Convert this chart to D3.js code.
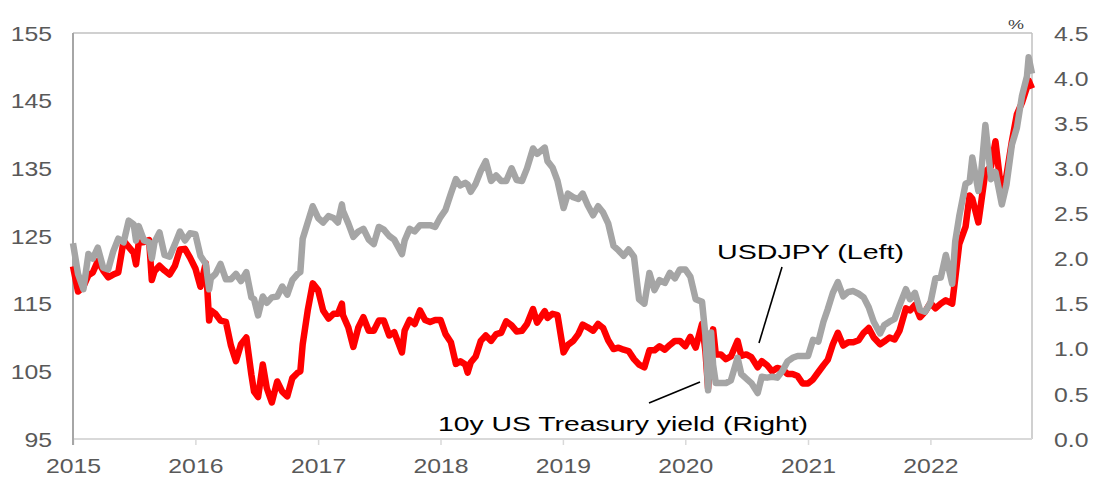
<!DOCTYPE html>
<html>
<head>
<meta charset="utf-8">
<script src="https://cdn.jsdelivr.net/npm/d3@7"></script>
<style>
  body { margin: 0; background: #fff; }
  svg { display: block; }
</style>
</head>
<body>
<script>
// Observation dates (roughly twice a month, plus a few dates for big moves)
const dates = [
  "2015-01-01","2015-01-16","2015-02-01","2015-02-16","2015-03-01","2015-03-16","2015-04-01","2015-04-16",
  "2015-05-01","2015-05-16","2015-06-01","2015-06-16","2015-07-01","2015-07-08","2015-07-16","2015-08-01",
  "2015-08-16","2015-08-24","2015-09-01","2015-09-16","2015-10-01","2015-10-16","2015-11-01","2015-11-16",
  "2015-12-01","2015-12-16",
  "2016-01-01","2016-01-16","2016-02-01","2016-02-11","2016-02-16","2016-03-01","2016-03-16","2016-04-01",
  "2016-04-16","2016-05-01","2016-05-16","2016-06-01","2016-06-16","2016-06-24","2016-07-06","2016-07-20",
  "2016-08-01","2016-08-16","2016-09-01","2016-09-16","2016-10-01","2016-10-16","2016-11-01","2016-11-09",
  "2016-11-16","2016-12-01","2016-12-16",
  "2017-01-01","2017-01-16","2017-02-01","2017-02-16","2017-03-01","2017-03-13","2017-03-16","2017-04-01",
  "2017-04-16","2017-05-01","2017-05-16","2017-06-01","2017-06-16","2017-07-01","2017-07-16","2017-08-01",
  "2017-08-16","2017-09-08","2017-09-16","2017-10-01","2017-10-16","2017-11-01","2017-11-16","2017-12-01",
  "2017-12-16",
  "2018-01-01","2018-01-16","2018-02-01","2018-02-16","2018-03-01","2018-03-16","2018-03-23","2018-04-01",
  "2018-04-16","2018-05-01","2018-05-16","2018-06-01","2018-06-16","2018-07-01","2018-07-16","2018-08-01",
  "2018-08-16","2018-09-01","2018-09-16","2018-10-04","2018-10-16","2018-11-08","2018-11-16","2018-12-01",
  "2018-12-16",
  "2019-01-03","2019-01-16","2019-02-01","2019-02-16","2019-03-01","2019-03-16","2019-04-01","2019-04-16",
  "2019-05-01","2019-05-16","2019-06-01","2019-06-16","2019-07-01","2019-07-16","2019-08-01","2019-08-16",
  "2019-09-01","2019-09-16","2019-10-01","2019-10-16","2019-11-01","2019-11-16","2019-12-01","2019-12-16",
  "2020-01-01","2020-01-16","2020-02-01","2020-02-20","2020-03-01","2020-03-09","2020-03-18","2020-03-24",
  "2020-04-01","2020-04-16","2020-05-01","2020-05-16","2020-06-05","2020-06-16","2020-07-01","2020-07-16",
  "2020-08-04","2020-08-16","2020-09-01","2020-09-16","2020-10-01","2020-10-16","2020-11-01","2020-11-16",
  "2020-12-01","2020-12-16",
  "2021-01-01","2021-01-16","2021-02-01","2021-02-16","2021-03-01","2021-03-16","2021-03-31","2021-04-16",
  "2021-05-01","2021-05-16","2021-06-01","2021-06-16","2021-07-01","2021-07-16","2021-08-04","2021-08-16",
  "2021-09-01","2021-09-16","2021-10-01","2021-10-20","2021-11-01","2021-11-16","2021-12-01","2021-12-16",
  "2022-01-01","2022-01-16","2022-02-01","2022-02-16","2022-03-07","2022-03-16","2022-03-28","2022-04-16",
  "2022-04-28","2022-05-06","2022-05-24","2022-06-01","2022-06-14","2022-07-01","2022-07-14","2022-08-02",
  "2022-08-16","2022-09-01","2022-09-16","2022-10-01","2022-10-16","2022-10-21","2022-10-31"
];

// USDJPY (left axis)
const usdjpy = [
  120.5,116.8,117.5,119.2,119.6,121.3,119.9,118.9,119.3,119.6,124.3,123.4,122.5,120.8,124.0,124.1,
  124.4,118.5,119.8,120.6,119.9,119.3,120.6,123.0,123.1,121.8,
  120.2,117.5,121.0,112.5,114.0,113.5,112.5,112.3,108.8,106.5,109.0,110.0,104.5,102.0,101.2,106.0,
  102.5,100.4,103.5,102.0,101.3,104.0,104.8,105.0,109.0,114.0,118.0,
  117.0,114.0,112.8,113.5,113.5,115.0,113.3,111.5,108.6,111.5,113.0,111.0,111.0,112.5,112.5,110.3,
  110.8,107.8,111.0,112.6,112.0,114.0,112.6,112.3,112.6,
  112.6,110.5,109.3,106.1,106.5,106.0,104.8,106.3,107.2,109.5,110.3,109.5,110.5,110.7,112.4,111.8,
  110.9,111.0,112.0,114.2,112.2,113.9,112.9,113.5,113.3,
  107.8,108.9,109.5,110.5,111.9,111.5,111.0,112.0,111.4,109.6,108.3,108.5,108.2,108.0,106.8,106.0,
  105.6,108.1,108.1,108.7,108.2,108.9,109.5,109.5,
  108.7,110.1,108.5,112.0,108.0,102.5,108.5,111.2,107.5,107.5,106.8,107.2,109.5,107.3,107.5,107.1,
  105.6,106.5,105.9,105.0,105.5,105.3,104.6,104.6,104.3,103.2,
  103.2,103.8,104.9,105.9,106.7,109.0,110.7,108.8,109.3,109.3,109.6,110.7,111.4,110.0,109.0,109.4,
  110.0,109.7,111.0,114.3,114.0,114.8,113.0,113.8,
  115.1,114.3,115.0,115.5,115.0,118.7,123.8,126.4,131.0,130.5,127.0,129.8,134.5,135.3,139.0,131.0,
  134.0,139.0,143.0,144.7,147.0,148.0,146.8
];

// 10y US Treasury yield, % (right axis)
const ust10y = [
  2.17,1.83,1.66,2.05,2.00,2.12,1.90,1.88,2.08,2.22,2.18,2.42,2.38,2.20,2.36,2.20,
  2.18,2.00,2.18,2.29,2.04,2.02,2.16,2.30,2.20,2.28,
  2.27,2.03,1.94,1.66,1.78,1.83,1.94,1.77,1.77,1.83,1.75,1.85,1.57,1.55,1.37,1.58,
  1.51,1.57,1.58,1.69,1.60,1.76,1.83,1.85,2.22,2.40,2.58,
  2.45,2.40,2.47,2.45,2.40,2.60,2.53,2.39,2.24,2.30,2.33,2.21,2.16,2.35,2.32,2.25,
  2.21,2.05,2.20,2.33,2.30,2.37,2.37,2.37,2.35,
  2.46,2.54,2.72,2.88,2.81,2.84,2.82,2.74,2.83,2.97,3.08,2.86,2.92,2.86,2.86,3.00,
  2.87,2.86,3.00,3.22,3.16,3.23,3.08,3.01,2.86,
  2.56,2.72,2.68,2.66,2.72,2.59,2.48,2.58,2.51,2.39,2.14,2.09,2.03,2.10,2.02,1.55,
  1.50,1.84,1.65,1.76,1.73,1.84,1.78,1.88,
  1.88,1.80,1.55,1.52,1.15,0.54,1.18,0.82,0.62,0.62,0.62,0.65,0.90,0.72,0.67,0.62,
  0.51,0.69,0.68,0.69,0.68,0.75,0.86,0.90,0.92,0.92,
  0.92,1.10,1.08,1.30,1.44,1.62,1.74,1.58,1.63,1.64,1.61,1.57,1.46,1.30,1.17,1.26,
  1.30,1.33,1.48,1.66,1.55,1.62,1.43,1.41,
  1.51,1.78,1.79,2.04,1.72,2.19,2.47,2.83,2.85,3.12,2.75,2.94,3.48,2.88,2.96,2.60,
  2.82,3.26,3.45,3.80,4.02,4.23,4.05
];

const leftTicks = [95, 105, 115, 125, 135, 145, 155];
const rightTicks = [0, 0.5, 1, 1.5, 2, 2.5, 3, 3.5, 4, 4.5];
const yearLabels = ["2015", "2016", "2017", "2018", "2019", "2020", "2021", "2022"];

const width = 1109, height = 497;
const plotL = 73, plotR = 1032, plotT = 33, plotB = 439;
const stretch = 1.24; // tick labels in the source are drawn wide

const parse = d3.timeParse("%Y-%m-%d");
const rows = dates.map((d, i) => ({ date: parse(d), jpy: usdjpy[i], ust: ust10y[i] }));

const svg = d3.select("body").append("svg")
  .attr("width", width)
  .attr("height", height);

const x = d3.scaleTime()
  .domain([parse("2015-01-01"), parse("2022-10-31")])
  .range([plotL, plotR]);
const yLeft = d3.scaleLinear().domain([95, 155]).range([plotB, plotT]);
const yRight = d3.scaleLinear().domain([0, 4.5]).range([plotB, plotT]);

// frame
svg.append("line").attr("x1", plotL).attr("x2", plotR).attr("y1", plotT).attr("y2", plotT)
  .attr("stroke", "#c0c0c0").attr("stroke-width", 1.5);
svg.append("line").attr("x1", plotR).attr("x2", plotR).attr("y1", plotT).attr("y2", plotB)
  .attr("stroke", "#c0c0c0").attr("stroke-width", 1.5);

// bottom axis
const gx = svg.append("g")
  .attr("transform", `translate(0,${plotB})`)
  .call(d3.axisBottom(x)
    .tickValues(yearLabels.map(y => parse(y + "-01-01")))
    .tickSize(6)
    .tickFormat(d3.timeFormat("%Y")));
gx.select(".domain").attr("stroke", "#d9d9d9").attr("stroke-width", 2).attr("d", `M${plotL},0H${plotR}`);
gx.selectAll(".tick line").attr("stroke", "#d9d9d9").attr("stroke-width", 1.5);
gx.selectAll("text")
  .attr("y", 34).attr("dy", 0)
  .attr("transform", `scale(${stretch},1)`)
  .attr("fill", "#595959")
  .style("font-family", "Liberation Sans, Arial, sans-serif")
  .style("font-size", "20px");

// left axis
const gl = svg.append("g")
  .attr("transform", `translate(${plotL},0)`)
  .call(d3.axisLeft(yLeft).tickValues(leftTicks).tickSize(0).tickFormat(d3.format("d")));
gl.select(".domain").remove();
gl.selectAll("text")
  .attr("x", -21 / stretch).attr("dy", "0.36em")
  .attr("transform", `scale(${stretch},1)`)
  .attr("fill", "#595959")
  .style("font-family", "Liberation Sans, Arial, sans-serif")
  .style("font-size", "20px");
svg.append("line").attr("x1", plotL).attr("x2", plotL).attr("y1", plotT).attr("y2", plotB + 6)
  .attr("stroke", "#a6a6a6").attr("stroke-width", 2);

// right axis
const gr = svg.append("g")
  .attr("transform", `translate(${plotR},0)`)
  .call(d3.axisRight(yRight).tickValues(rightTicks).tickSize(0).tickFormat(d3.format(".1f")));
gr.select(".domain").remove();
gr.selectAll("text")
  .attr("x", 22 / stretch).attr("dy", "0.36em")
  .attr("transform", `scale(${stretch},1)`)
  .attr("fill", "#595959")
  .style("font-family", "Liberation Sans, Arial, sans-serif")
  .style("font-size", "20px");

svg.append("text")
  .attr("x", 1008).attr("y", 29)
  .attr("textLength", 16).attr("lengthAdjust", "spacingAndGlyphs")
  .attr("fill", "#404040")
  .style("font-family", "Liberation Sans, Arial, sans-serif")
  .style("font-size", "13px")
  .text("%");

// series
const lineJpy = d3.line().x(d => x(d.date)).y(d => yLeft(d.jpy));
const lineUst = d3.line().x(d => x(d.date)).y(d => yRight(d.ust));

svg.append("path")
  .datum(rows)
  .attr("d", lineJpy)
  .attr("fill", "none")
  .attr("stroke", "#ff0000")
  .attr("stroke-width", 6.5)
  .attr("stroke-linejoin", "round");

svg.append("path")
  .datum(rows)
  .attr("d", lineUst)
  .attr("fill", "none")
  .attr("stroke", "#a5a5a5")
  .attr("stroke-width", 6.5)
  .attr("stroke-linejoin", "round");

// annotations
const notes = [
  { text: "USDJPY (Left)", x: 717, y: 259, len: 187, line: [782, 267, 759, 343] },
  { text: "10y US Treasury yield (Right)", x: 438, y: 431, len: 370, line: [649, 403, 700, 382] }
];

svg.selectAll(".note-line")
  .data(notes)
  .enter().append("line")
  .attr("class", "note-line")
  .attr("x1", d => d.line[0]).attr("y1", d => d.line[1])
  .attr("x2", d => d.line[2]).attr("y2", d => d.line[3])
  .attr("stroke", "#000")
  .attr("stroke-width", 1.6);

svg.selectAll(".note")
  .data(notes)
  .enter().append("text")
  .attr("class", "note")
  .attr("x", d => d.x).attr("y", d => d.y)
  .attr("textLength", d => d.len).attr("lengthAdjust", "spacingAndGlyphs")
  .attr("fill", "#000")
  .style("font-family", "Liberation Sans, Arial, sans-serif")
  .style("font-size", "20px")
  .text(d => d.text);
</script>
</body>
</html>
